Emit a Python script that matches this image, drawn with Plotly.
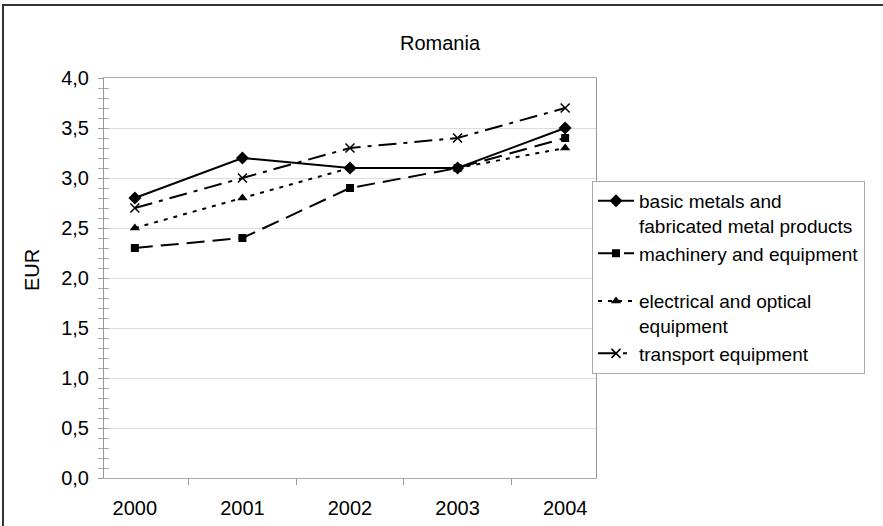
import plotly.graph_objects as go

years = ["2000", "2001", "2002", "2003", "2004"]
basic_metals = [2.8, 3.2, 3.1, 3.1, 3.5]
machinery = [2.3, 2.4, 2.9, 3.1, 3.4]
electrical = [2.5, 2.8, 3.1, 3.1, 3.3]
transport = [2.7, 3.0, 3.3, 3.4, 3.7]

names = ["basic metals and<br>fabricated metal products",
         "machinery and equipment",
         "electrical and optical<br>equipment",
         "transport equipment"]
groups = ["g1", "g1", "g2", "g2"]

FONT = "Liberation Sans, Arial, sans-serif"
fig = go.Figure()

styles = [
    (basic_metals, "solid", "diamond", 10),
    (machinery, "18px,8px", "square", 8),
    (electrical, "4px,6px", "triangle-up", 9),
    (transport, "18px,7px,4px,7px", "x-thin", 9),
]
for (vals, dash, sym, sz), nm, grp in zip(styles, names, groups):
    fig.add_trace(go.Scatter(
        x=years, y=vals, name=nm, mode="lines+markers", legendgroup=grp,
        line=dict(color="black", width=2, dash=dash),
        marker=dict(symbol=sym, size=sz, color="black",
                    line=dict(color="black", width=1.5 if sym == "x-thin" else 0)),
    ))

# dummy trace for overlay axis (inner minor ticks)
fig.add_trace(go.Scatter(x=[years[0]], y=[None], yaxis="y2", showlegend=False,
                         hoverinfo="skip", mode="lines"))

W, H = 883, 526
L, R, T, B = 104, 596, 78, 478

fig.update_layout(
    width=W, height=H,
    margin=dict(l=L, r=W - R, t=T, b=H - B, autoexpand=False),
    paper_bgcolor="white", plot_bgcolor="white",
    font=dict(family=FONT, size=20, color="black"),
    separators=",.",
    showlegend=True,
    legend=dict(
        x=(592 - L) / (R - L), y=(B - 181) / (B - T),
        xanchor="left", yanchor="top", valign="top",
        bgcolor="white", bordercolor="#aaaaaa", borderwidth=1,
        font=dict(family=FONT, size=19, color="black"),
        tracegroupgap=20, itemwidth=36, traceorder="grouped",
    ),
    xaxis=dict(
        type="category", tickson="boundaries", ticks="outside", ticklen=6,
        tickcolor="#999999", showgrid=False, showline=True, linecolor="#aaaaaa",
        mirror=True, linewidth=1, tickfont=dict(size=20), ticklabelstandoff=12,
        automargin=False,
    ),
    yaxis=dict(
        range=[0, 4], dtick=0.5, tickformat=".1f", ticks="outside", ticklen=5,
        tickcolor="#999999", showgrid=True, gridcolor="#dddddd", gridwidth=1,
        showline=True, linecolor="#999999", linewidth=1, mirror=True,
        zeroline=False, tickfont=dict(size=20), ticklabelstandoff=5,
        automargin=False,
        minor=dict(dtick=0.1, ticks="outside", ticklen=5, tickcolor="#aaaaaa",
                   showgrid=False),
    ),
    yaxis2=dict(
        range=[0, 4], overlaying="y", side="left", showticklabels=False,
        showgrid=False, zeroline=False, showline=False, automargin=False,
        dtick=0.1, ticks="inside", ticklen=5, tickcolor="#aaaaaa",
    ),
    annotations=[
        dict(text="Romania", x=(440 - L) / (R - L), y=(B - 43) / (B - T),
             xref="paper", yref="paper", showarrow=False,
             font=dict(size=20), xanchor="center", yanchor="middle"),
        dict(text="EUR", x=(32 - L) / (R - L), y=(B - 270) / (B - T),
             xref="paper", yref="paper", showarrow=False, textangle=-90,
             font=dict(size=20), xanchor="center", yanchor="middle"),
    ],
    shapes=[
        dict(type="rect", xref="paper", yref="paper",
             x0=(3 - L) / (R - L), x1=(890 - L) / (R - L),
             y0=(B - 535) / (B - T), y1=(B - 5) / (B - T),
             line=dict(color="#333333", width=2), fillcolor="rgba(0,0,0,0)",
             layer="below"),
    ],
)

fig.write_html("out.html", config={"displayModeBar": False},
               post_script="document.body.style.margin='0px';")
